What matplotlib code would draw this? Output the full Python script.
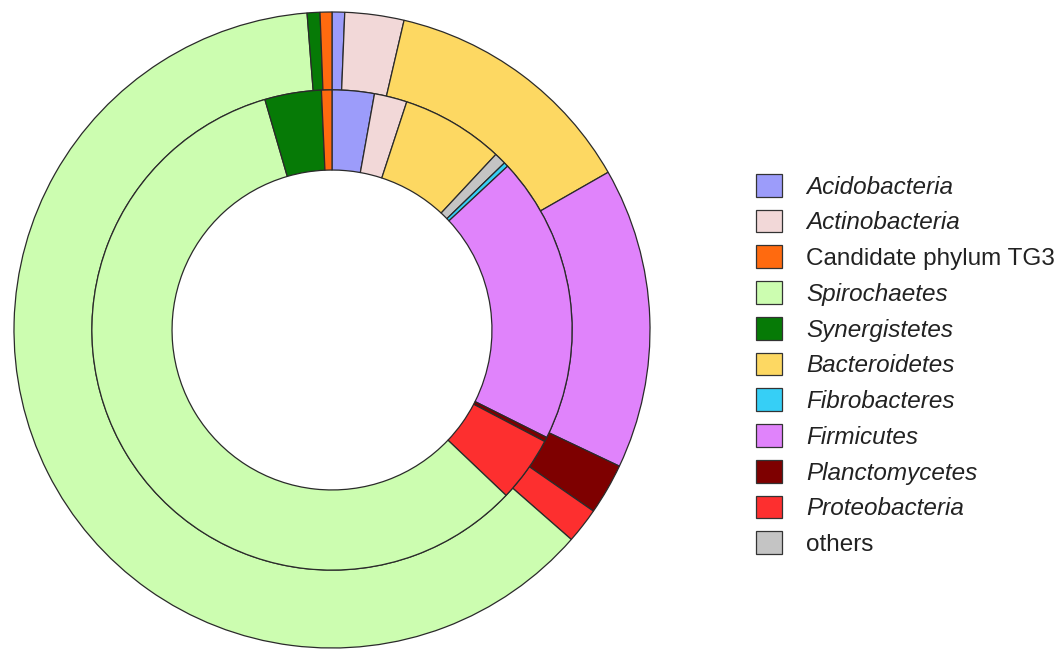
import matplotlib
matplotlib.use('Agg')
from matplotlib import pyplot as plt
from matplotlib.patches import Patch

plt.rcParams['font.family'] = ['Liberation Sans', 'DejaVu Sans']

# phyla in drawing order (clockwise from 12 o'clock)
phyla = ['Acidobacteria', 'Actinobacteria', 'Bacteroidetes', 'others', 'Fibrobacteres',
         'Firmicutes', 'Planctomycetes', 'Proteobacteria', 'Spirochaetes', 'Synergistetes',
         'Candidate phylum TG3']

# relative abundance (%)
outer_pct = [0.64, 3.0, 13.1, 0.0, 0.0, 15.3, 2.6, 1.8, 62.3, 0.65, 0.6]
inner_pct = [2.83, 2.2, 6.9, 0.8, 0.3, 19.3, 0.3, 4.4, 58.3, 3.8, 0.7]

colors = {
    'Acidobacteria': '#9c9cfa',
    'Actinobacteria': '#f2d8d8',
    'Candidate phylum TG3': '#ff6a0f',
    'Spirochaetes': '#ccfdb0',
    'Synergistetes': '#067a06',
    'Bacteroidetes': '#fdd862',
    'Fibrobacteres': '#36cff6',
    'Firmicutes': '#e083fb',
    'Planctomycetes': '#7e0000',
    'Proteobacteria': '#fd2f2f',
    'others': '#c4c4c4',
}

# legend order
legend_order = ['Acidobacteria', 'Actinobacteria', 'Candidate phylum TG3', 'Spirochaetes',
                'Synergistetes', 'Bacteroidetes', 'Fibrobacteres', 'Firmicutes',
                'Planctomycetes', 'Proteobacteria', 'others']
not_italic = ['Candidate phylum TG3', 'others']

fig = plt.figure(figsize=(10.6, 6.51), dpi=100)
ax = fig.add_axes([14 / 1060, 3 / 651, 636 / 1060, 636 / 651])

edge = dict(edgecolor='#2a2a2a', linewidth=0.9)


def ring(values, radius, width):
    names = [p for p, v in zip(phyla, values) if v > 0]
    vals = [v for v in values if v > 0]
    ax.pie(vals, colors=[colors[n] for n in names], radius=radius,
           startangle=90, counterclock=False,
           wedgeprops=dict(width=width, **edge))


ring(outer_pct, 1.0, 0.245)
ring(inner_pct, 0.755, 0.252)

ax.set_xlim(-1.0, 1.0)
ax.set_ylim(-1.0, 1.0)
ax.set_aspect('equal')
ax.axis('off')

handles = [Patch(facecolor=colors[n], edgecolor='#333333', linewidth=0.9) for n in legend_order]
leg = fig.legend(handles, legend_order, loc='upper left',
                 bbox_to_anchor=(756 / 1060, 1 - 174 / 651),
                 frameon=False, fontsize=17.5, handlelength=1.05, handleheight=1.05,
                 handletextpad=1.0, labelspacing=0.46, borderpad=0, borderaxespad=0)
for txt in leg.get_texts():
    if txt.get_text() not in not_italic:
        txt.set_fontstyle('italic')
    txt.set_color('#222222')

plt.savefig('out.png', dpi=100)
plt.close()
